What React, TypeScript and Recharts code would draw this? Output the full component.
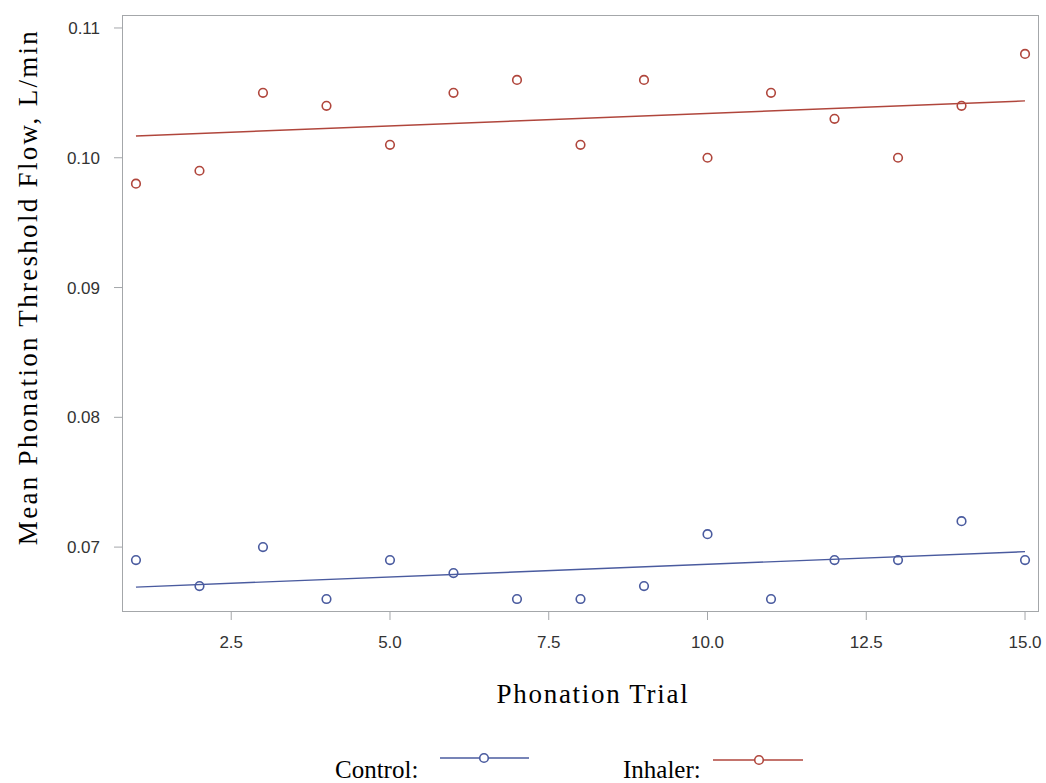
import { ComposedChart, Scatter, Line, XAxis, YAxis } from 'recharts';

// Phonation trial numbers
const trials = [1, 2, 3, 4, 5, 6, 7, 8, 9, 10, 11, 12, 13, 14, 15];

// Mean phonation threshold flow (L/min) per trial
const controlValues = [0.069, 0.067, 0.07, 0.066, 0.069, 0.068, 0.066, 0.066, 0.067, 0.071, 0.066, 0.069, 0.069, 0.072, 0.069];
const inhalerValues = [0.098, 0.099, 0.105, 0.104, 0.101, 0.105, 0.106, 0.101, 0.106, 0.1, 0.105, 0.103, 0.1, 0.104, 0.108];

// Linear fit endpoints (trial 1 and trial 15)
const fitTrials = [1, 15];
const controlFit = [0.06692, 0.06965];
const inhalerFit = [0.10168, 0.10438];

const xTicks = [2.5, 5, 7.5, 10, 12.5, 15];
const yTicks = [0.07, 0.08, 0.09, 0.1, 0.11];

const BLUE = '#4a5b9f';
const RED = '#b0463c';
const FRAME = '#a4a7aa';

const controlData = trials.map((t, i) => ({ x: t, y: controlValues[i] }));
const inhalerData = trials.map((t, i) => ({ x: t, y: inhalerValues[i] }));
const controlFitData = fitTrials.map((t, i) => ({ x: t, y: controlFit[i] }));
const inhalerFitData = fitTrials.map((t, i) => ({ x: t, y: inhalerFit[i] }));

const ring = (color: string) => (props: any) => (
  <circle cx={props.cx} cy={props.cy} r={4.3} fill="none" stroke={color} strokeWidth={1.6} />
);

const tickStyle = { fill: '#333', fontSize: 17, fontFamily: '"Liberation Sans", Arial, sans-serif' };
const serif = '"Liberation Serif", "Times New Roman", serif';

export default function App() {
  return (
    <div style={{ position: 'absolute', left: 0, top: 0, width: 1046, height: 783, background: '#fff' }}>
      <ComposedChart width={1046} height={783} margin={{ top: 15, right: 7, bottom: 0, left: 0 }}>
        <XAxis
          type="number"
          dataKey="x"
          domain={[0.78, 15.22]}
          ticks={xTicks}
          tickFormatter={(v: number) => v.toFixed(1)}
          height={171}
          axisLine={false}
          tickLine={{ stroke: FRAME }}
          tickSize={8}
          tickMargin={16}
          tick={tickStyle}
          allowDataOverflow
        />
        <YAxis
          type="number"
          dataKey="y"
          domain={[0.065, 0.111]}
          ticks={yTicks}
          tickFormatter={(v: number) => v.toFixed(2)}
          width={122}
          axisLine={false}
          tickLine={{ stroke: FRAME }}
          tickSize={8}
          tickMargin={14}
          tick={tickStyle}
          allowDataOverflow
        />
        <Line data={controlFitData} dataKey="y" stroke={BLUE} strokeWidth={1.4} dot={false} isAnimationActive={false} />
        <Line data={inhalerFitData} dataKey="y" stroke={RED} strokeWidth={1.4} dot={false} isAnimationActive={false} />
        <Scatter data={controlData} dataKey="y" shape={ring(BLUE)} isAnimationActive={false} />
        <Scatter data={inhalerData} dataKey="y" shape={ring(RED)} isAnimationActive={false} />
      </ComposedChart>
      <div
        style={{
          position: 'absolute',
          left: 122,
          top: 15,
          width: 917,
          height: 597,
          border: `1.5px solid ${FRAME}`,
          boxSizing: 'border-box',
          pointerEvents: 'none',
        }}
      />
      <svg width={1046} height={783} style={{ position: 'absolute', left: 0, top: 0, pointerEvents: 'none' }}>
        <text
          transform="translate(37,287) rotate(-90)"
          textAnchor="middle"
          fontFamily={serif}
          fontSize={27}
          letterSpacing={2.3}
          fill="#000"
        >
          Mean Phonation Threshold Flow, L/min
        </text>
        <text x={593} y={703} textAnchor="middle" fontFamily={serif} fontSize={27} letterSpacing={1.7} fill="#000">
          Phonation Trial
        </text>
        <text x={335} y={778} fontFamily={serif} fontSize={25} fill="#000">
          Control:
        </text>
        <line x1={440} y1={758} x2={529} y2={758} stroke={BLUE} strokeWidth={1.6} />
        <circle cx={484} cy={758} r={4.3} fill="#fff" stroke={BLUE} strokeWidth={1.6} />
        <text x={623} y={778} fontFamily={serif} fontSize={25} fill="#000">
          Inhaler:
        </text>
        <line x1={713} y1={760} x2={803} y2={760} stroke={RED} strokeWidth={1.6} />
        <circle cx={759} cy={760} r={4.3} fill="#fff" stroke={RED} strokeWidth={1.6} />
      </svg>
    </div>
  );
}
